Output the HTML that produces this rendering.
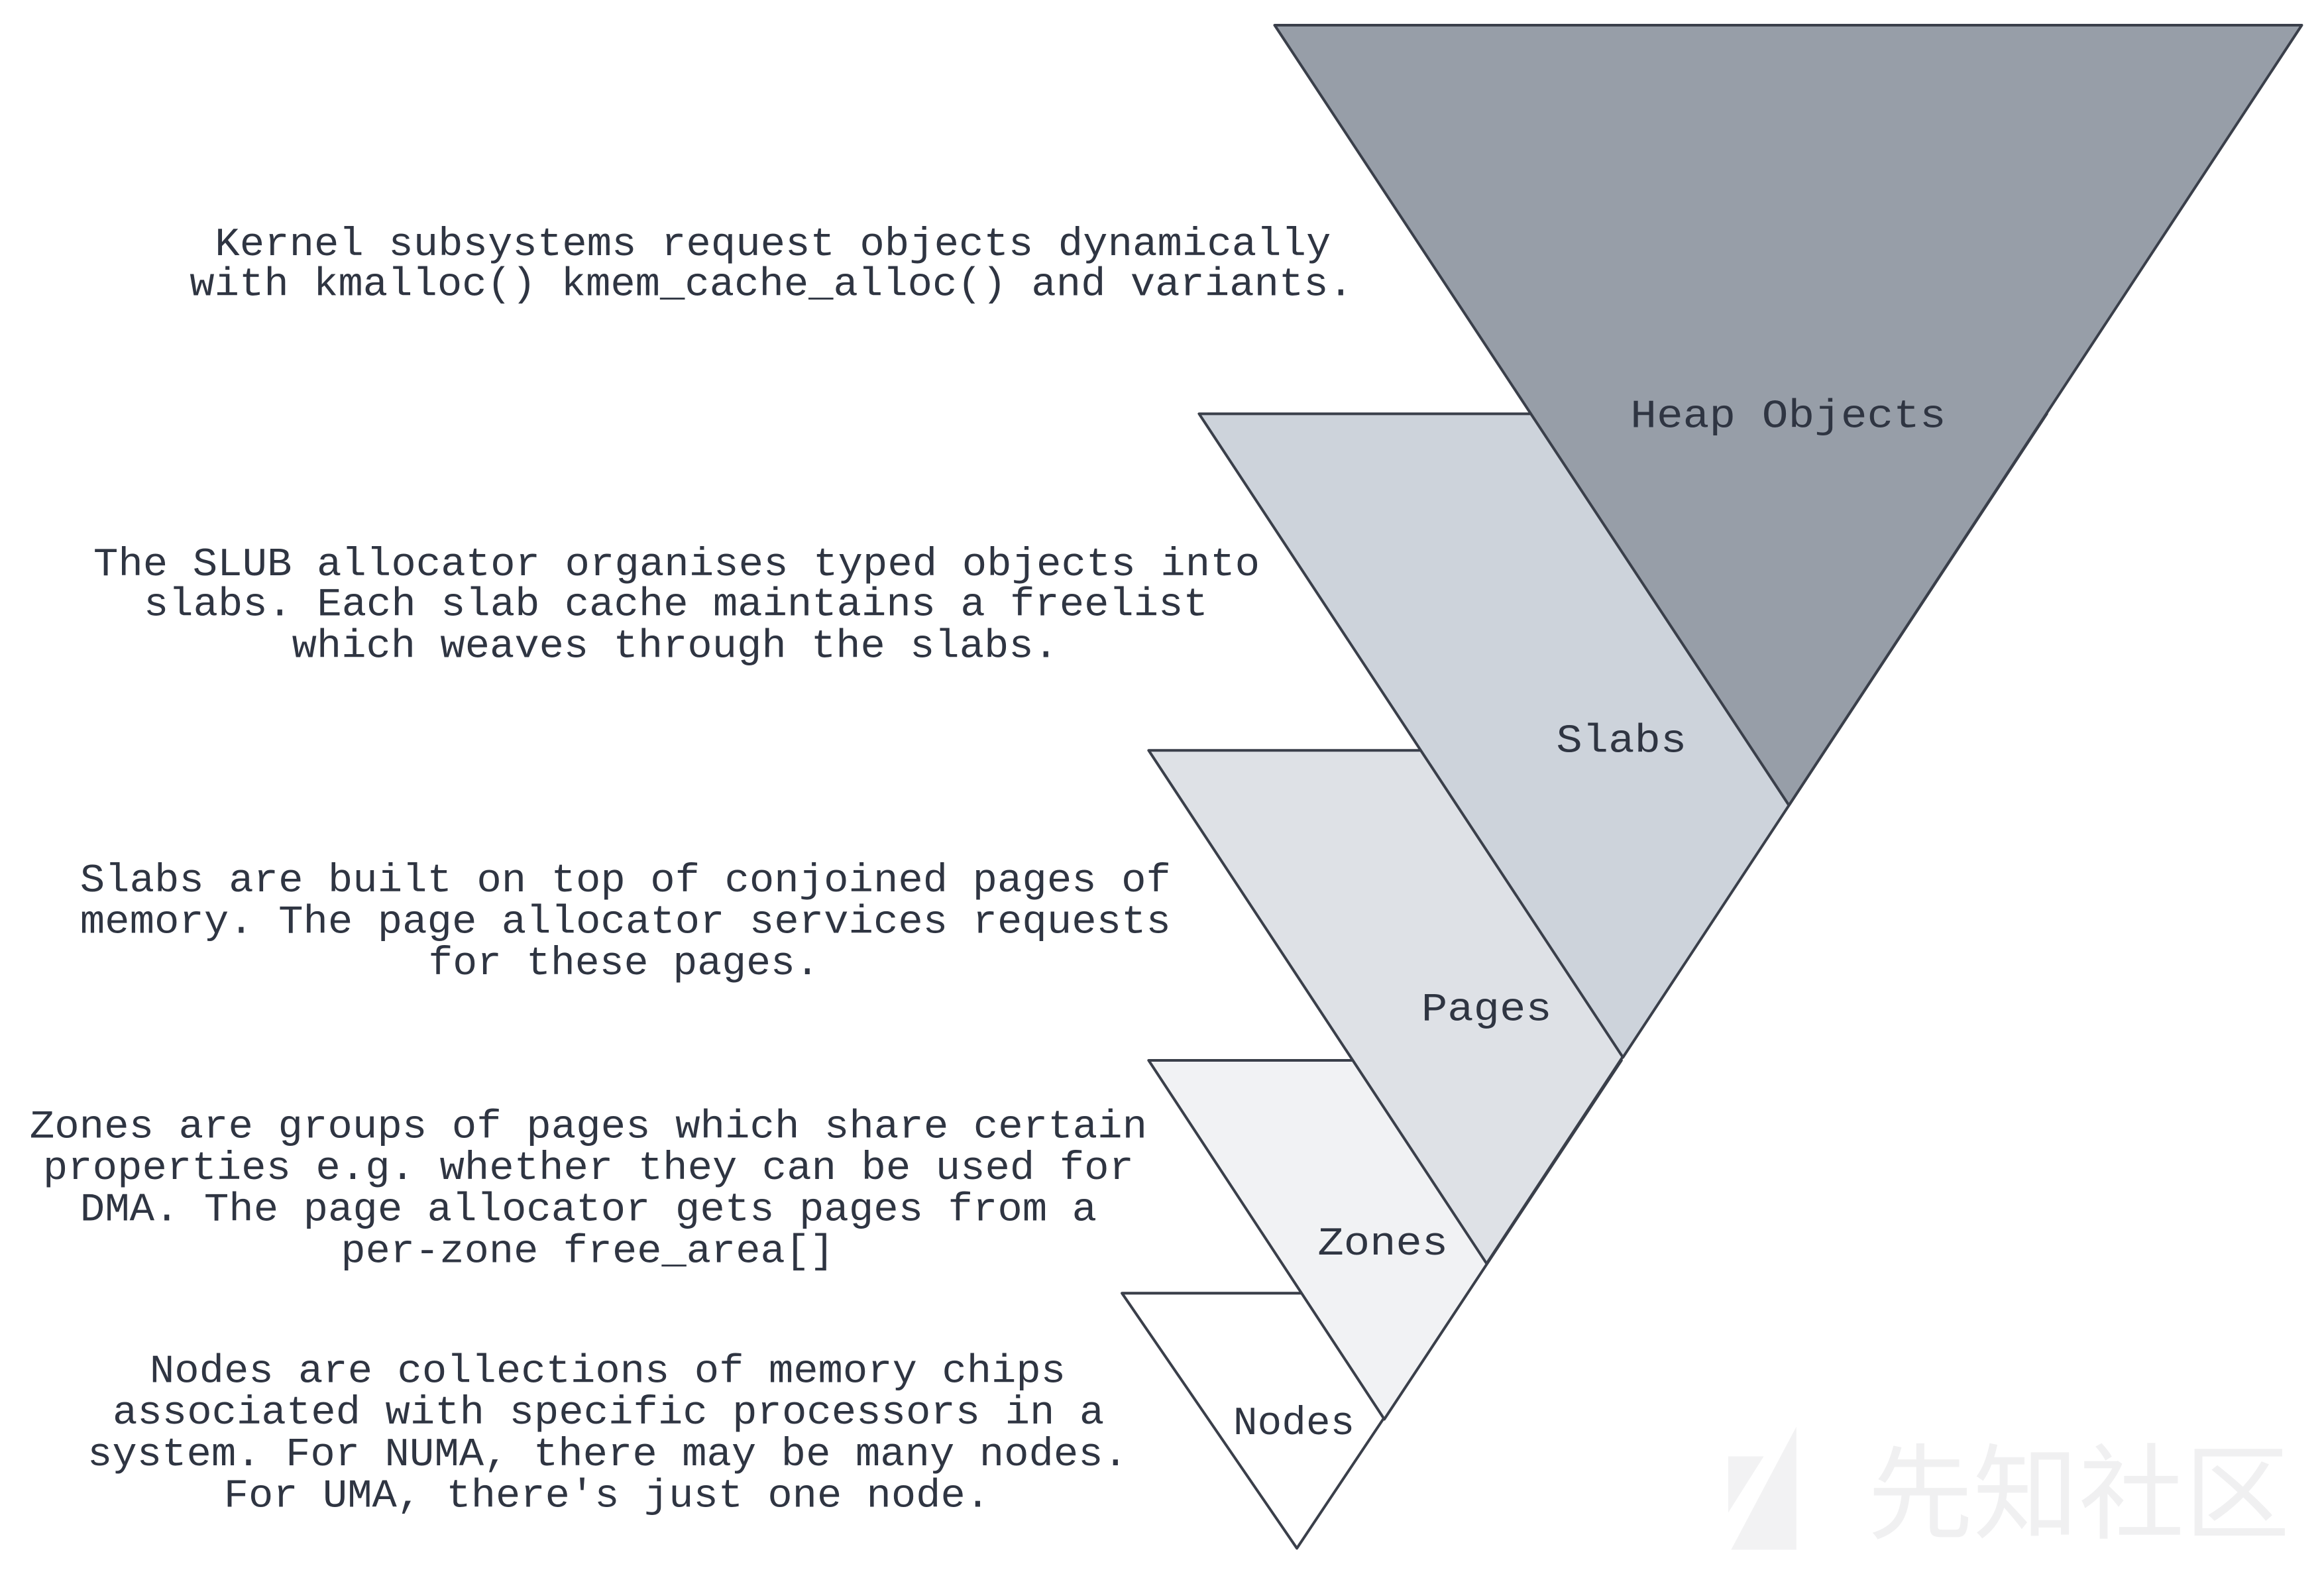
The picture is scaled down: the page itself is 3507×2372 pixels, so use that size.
<!DOCTYPE html>
<html><head><meta charset="utf-8"><style>
html,body{margin:0;padding:0;background:#fff;}
svg{display:block;}
text{font-family:"Liberation Mono","Noto Sans CJK SC",monospace;fill:#2f3542;font-size:27px;}
</style></head><body>
<svg width="3507" height="2372" viewBox="0 0 1568 1060" preserveAspectRatio="none" xmlns="http://www.w3.org/2000/svg">
<rect width="1568" height="1060" fill="#fff"/>
<g fill="#f2f2f3">
<polygon points="1166,982 1190,982 1166,1020"/>
<polygon points="1212,962 1212,1045 1168,1045"/>
<text x="1260" y="1032" style="font-size:70px;fill:#f0f0f1;font-family:'Noto Sans CJK SC',sans-serif" textLength="285" lengthAdjust="spacingAndGlyphs">先知社区</text>
</g>
<g stroke="#3a3f4a" stroke-width="1.8" stroke-linejoin="round">
<polygon points="757,872 990,872 875,1044" fill="#ffffff"/>
<polygon points="775,715 1094,715 934,957" fill="#f1f2f4"/>
<polygon points="775,506 1231,506 1003,852" fill="#dee1e6"/>
<polygon points="809,279 1381,279 1095,713" fill="#cdd3db"/>
<polygon points="860,17 1553,17 1207,543" fill="#979ea8"/>
</g>
<text x="1100" y="288" textLength="213" lengthAdjust="spacingAndGlyphs">Heap Objects</text>
<text x="1050" y="507" textLength="88" lengthAdjust="spacingAndGlyphs">Slabs</text>
<text x="959" y="688" textLength="88" lengthAdjust="spacingAndGlyphs">Pages</text>
<text x="889" y="846" textLength="88" lengthAdjust="spacingAndGlyphs">Zones</text>
<text x="832" y="967" textLength="82" lengthAdjust="spacingAndGlyphs">Nodes</text>

<text x="145" y="172" textLength="753" lengthAdjust="spacingAndGlyphs">Kernel subsystems request objects dynamically</text>
<text x="128" y="199" textLength="785" lengthAdjust="spacingAndGlyphs">with kmalloc() kmem_cache_alloc() and variants.</text>

<text x="63" y="388" textLength="787" lengthAdjust="spacingAndGlyphs">The SLUB allocator organises typed objects into</text>
<text x="97" y="415" textLength="718" lengthAdjust="spacingAndGlyphs">slabs. Each slab cache maintains a freelist</text>
<text x="197" y="443" textLength="517" lengthAdjust="spacingAndGlyphs">which weaves through the slabs.</text>

<text x="54" y="601" textLength="736" lengthAdjust="spacingAndGlyphs">Slabs are built on top of conjoined pages of</text>
<text x="54" y="629" textLength="736" lengthAdjust="spacingAndGlyphs">memory. The page allocator services requests</text>
<text x="289" y="657" textLength="264" lengthAdjust="spacingAndGlyphs">for these pages.</text>

<text x="20" y="767" textLength="754" lengthAdjust="spacingAndGlyphs">Zones are groups of pages which share certain</text>
<text x="29" y="795" textLength="736" lengthAdjust="spacingAndGlyphs">properties e.g. whether they can be used for</text>
<text x="54" y="823" textLength="686" lengthAdjust="spacingAndGlyphs">DMA. The page allocator gets pages from a</text>
<text x="230" y="851" textLength="333" lengthAdjust="spacingAndGlyphs">per-zone free_area[]</text>

<text x="101" y="932" textLength="618" lengthAdjust="spacingAndGlyphs">Nodes are collections of memory chips</text>
<text x="76" y="960" textLength="669" lengthAdjust="spacingAndGlyphs">associated with specific processors in a</text>
<text x="59" y="988" textLength="702" lengthAdjust="spacingAndGlyphs">system. For NUMA, there may be many nodes.</text>
<text x="151" y="1016" textLength="517" lengthAdjust="spacingAndGlyphs">For UMA, there's just one node.</text>
</svg>
</body></html>
